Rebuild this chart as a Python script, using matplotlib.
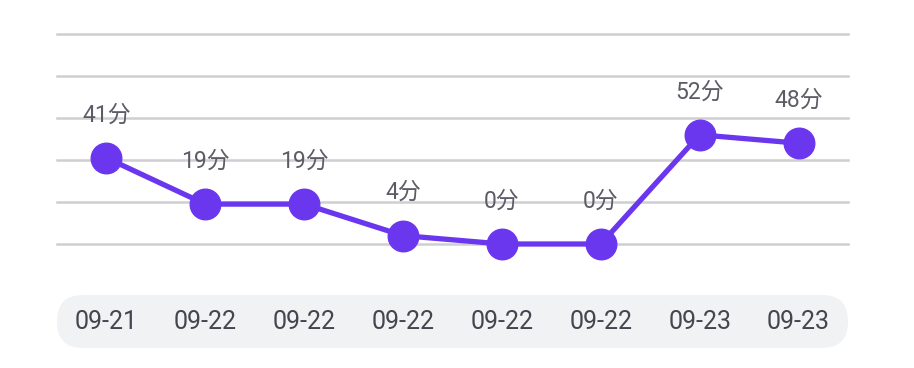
import matplotlib
matplotlib.use("Agg")
import matplotlib.pyplot as plt
from matplotlib.patches import FancyBboxPatch
from matplotlib.transforms import blended_transform_factory

plt.rcParams['font.family'] = ['Roboto', 'Noto Sans CJK SC', 'DejaVu Sans']

dates = ["09-21", "09-22", "09-22", "09-22", "09-22", "09-22", "09-23", "09-23"]
values = [41, 19, 19, 4, 0, 0, 52, 48]
value_labels = ["41分", "19分", "19分", "4分", "0分", "0分", "52分", "48分"]
grid_ticks = [0, 20, 40, 60, 80, 100]

W, H = 914, 368
fig = plt.figure(figsize=(W / 100, H / 100), dpi=100)
fig.patch.set_facecolor("white")

ax = fig.add_axes([57 / W, (H - 244) / H, 791 / W, 210 / H])
ax.set_xlim(-0.5, len(values) - 0.5)
ax.set_ylim(0, 100)
for s in ax.spines.values():
    s.set_visible(False)
ax.set_xticks([])
ax.set_yticks([])
ax.patch.set_alpha(0)

for g in grid_ticks:
    ax.axhline(g, color="#cfcfd3", lw=1.8, zorder=1, clip_on=False)

x = list(range(len(values)))
ax.plot(x, values, color="#6a37ef", lw=3.8, marker="o", ms=22,
        markerfacecolor="#6a37ef", markeredgecolor="#6a37ef", zorder=3,
        clip_on=False, solid_joinstyle="round")

for xi, v, lab in zip(x, values, value_labels):
    ax.annotate(lab, (xi, v), xytext=(0, 31), textcoords="offset points",
                ha="center", va="center", fontsize=16.5, color="#5c5c66",
                zorder=4, annotation_clip=False)

# bottom band
bax = fig.add_axes([57 / W, (H - 348) / H, 791 / W, 53 / H])
bax.set_xlim(0, 791)
bax.set_ylim(0, 53)
bax.axis("off")
bax.add_patch(FancyBboxPatch((0, 0), 791, 53,
                             boxstyle="round,pad=0,rounding_size=26",
                             facecolor="#f1f2f4", edgecolor="none"))

trans = blended_transform_factory(ax.transData, fig.transFigure)
for xi, d in zip(x, dates):
    fig.text(xi, (H - 322) / H, d, transform=trans, ha="center", va="center",
             fontsize=18, color="#45454f")

fig.savefig("out.png", dpi=100)
